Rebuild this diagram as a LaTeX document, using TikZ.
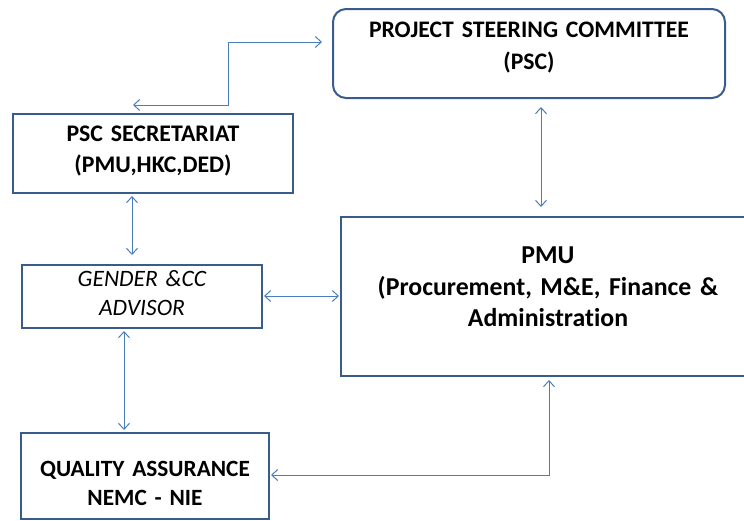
\documentclass[tikz,border=0pt]{standalone}
\usepackage{fontspec}
\setmainfont{Carlito}[Ligatures=NoCommon,WordSpace=0.6]
\usetikzlibrary{arrows.meta,calc}
\definecolor{boxblue}{HTML}{385D8A}
\definecolor{arrblue}{HTML}{4A7EBB}
\begin{document}
\begin{tikzpicture}[x=1pt,y=-1pt,
  box/.style={draw=boxblue,line width=2pt,fill=white,align=center,inner sep=0pt,anchor=north},
  conn/.style={draw=arrblue,line width=1pt,{Straight Barb[length=6pt,width=11pt]}-{Straight Barb[length=6pt,width=11pt]}}]
\useasboundingbox (0,0) rectangle (744,520);
\node[box,rounded corners=13pt,text width=392pt,text height=28.7pt,text depth=60.3pt,
  font=\fontsize{23.7}{32}\selectfont\bfseries] (psc) at (529,8) {PROJECT STEERING COMMITTEE\\(PSC)};
\node[box,text width=280pt,text height=27pt,text depth=52pt,
  font=\fontsize{23.8}{31}\selectfont\bfseries] (sec) at (153,113) {PSC SECRETARIAT\\(PMU,HKC,DED)};
\node[box,text width=240pt,text height=21pt,text depth=42pt,
  font=\fontsize{23.5}{29.5}\selectfont\itshape] (gen) at (142,264) {GENDER \&CC\\ADVISOR};
\node[box,text width=248pt,text height=43pt,text depth=43pt,
  font=\fontsize{23.3}{29}\selectfont\bfseries] (qa) at (145,432) {QUALITY ASSURANCE\hspace*{16pt}\\NEMC - NIE\hspace*{8pt}};
\node[box,text width=414pt,text height=46.7pt,text depth=112.3pt,
  font=\fontsize{25.8}{31.5}\selectfont\bfseries] (pmu) at (548,216) {PMU\\(Procurement, M\&E, Finance \&\\Administration};
\coordinate (c1) at ($(sec.north west)+(121,-8)$);
\coordinate (c2) at ($(psc.west)+(-10,-11.5)$);
\draw[conn] (c1) -- ++(95,0) |- (c2);
\draw[conn] ($(sec.south west)+(120,2)$) -- ($(gen.north west)+(111,-9)$);
\draw[conn] ($(gen.south west)+(103,2)$) -- ($(qa.north west)+(104,-2)$);
\draw[conn] ($(gen.east)+(1,-0.5)$) -- ($(pmu.west)+(-1,-0.5)$);
\draw[conn] ($(psc.south)+(12,8)$) -- ($(pmu.north)+(-7,-9)$);
\draw[conn] ($(pmu.south)+(1,3)$) |- ($(qa.east)+(1,-1)$);
\end{tikzpicture}
\end{document}
